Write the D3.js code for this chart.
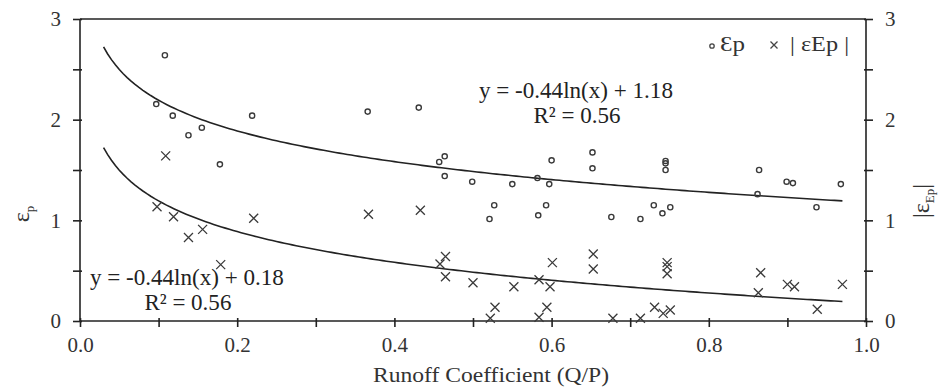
<!DOCTYPE html>
<html>
<head>
<meta charset="utf-8">
<script src="https://cdn.jsdelivr.net/npm/d3@7"></script>
<style>
  html, body { margin: 0; padding: 0; background: #fff; }
  svg { display: block; font-family: "Liberation Serif", "Times New Roman", Times, serif; }
  .axis path, .axis line { stroke: #222; stroke-width: 1.6; }
  .axis text { fill: #333; font-size: 21px; font-family: "Liberation Serif", "Times New Roman", Times, serif; }
</style>
</head>
<body>
<div id="chart"></div>
<script>
// εp observations (circles)
const epRunoff = [0.097, 0.108, 0.118, 0.138, 0.155, 0.178, 0.219, 0.366, 0.431, 0.457,
  0.464, 0.464, 0.499, 0.521, 0.527, 0.550, 0.582, 0.583, 0.593, 0.597,
  0.600, 0.652, 0.652, 0.676, 0.713, 0.730, 0.741, 0.745, 0.745, 0.745,
  0.751, 0.862, 0.864, 0.899, 0.907, 0.937, 0.968];
const epValues = [2.155, 2.64, 2.04, 1.845, 1.92, 1.556, 2.04, 2.08, 2.12, 1.58,
  1.636, 1.44, 1.384, 1.013, 1.15, 1.36, 1.42, 1.05, 1.15, 1.36,
  1.596, 1.675, 1.517, 1.033, 1.013, 1.15, 1.07, 1.59, 1.566, 1.50,
  1.13, 1.26, 1.50, 1.384, 1.37, 1.13, 1.36];

// |εEp| observations (crosses)
const absRunoff = [0.098, 0.109, 0.119, 0.138, 0.156, 0.179, 0.221, 0.367, 0.433, 0.458,
  0.465, 0.465, 0.500, 0.522, 0.528, 0.552, 0.584, 0.584, 0.594, 0.598,
  0.601, 0.653, 0.653, 0.678, 0.713, 0.731, 0.742, 0.747, 0.747, 0.747,
  0.751, 0.863, 0.866, 0.900, 0.909, 0.938, 0.970];
const absValues = [1.135, 1.64, 1.036, 0.83, 0.91, 0.56, 1.02, 1.06, 1.10, 0.566,
  0.64, 0.44, 0.38, 0.027, 0.136, 0.34, 0.41, 0.037, 0.136, 0.34,
  0.58, 0.665, 0.517, 0.027, 0.027, 0.136, 0.076, 0.58, 0.54, 0.47,
  0.11, 0.28, 0.48, 0.364, 0.34, 0.116, 0.364];

// axis ticks
const xTicks = [0, 0.1, 0.2, 0.3, 0.4, 0.5, 0.6, 0.7, 0.8, 0.9, 1.0];
const xTickLabels = ['0.0', '', '0.2', '', '0.4', '', '0.6', '', '0.8', '', '1.0'];
const yTicks = [0, 0.5, 1, 1.5, 2, 2.5, 3];
const yTickLabels = ['0', '', '1', '', '2', '', '3'];

// log trendlines printed on the chart: y = slope*ln(x) + intercept
const trendSlope = -0.44;
const trendIntercepts = [1.18, 0.18];
const trendStart = 0.03;
const trendEnd = 0.97;
const trendLabels = ['y = -0.44ln(x) + 1.18', 'y = -0.44ln(x) + 0.18'];
const r2Label = 'R\u00b2 = 0.56';

const width = 939;
const height = 390;
const margin = { top: 19, right: 73, bottom: 69, left: 80 };

const svg = d3.select('#chart')
  .append('svg')
  .attr('width', width)
  .attr('height', height);

const x = d3.scaleLinear().domain([0, 1]).range([margin.left, width - margin.right]);
const y = d3.scaleLinear().domain([0, 3]).range([height - margin.bottom, margin.top]);

// top border
svg.append('line')
  .attr('x1', x(0)).attr('x2', x(1))
  .attr('y1', y(3)).attr('y2', y(3))
  .attr('stroke', '#222').attr('stroke-width', 1.6);

// bottom axis
const xAxis = svg.append('g')
  .attr('class', 'axis')
  .attr('transform', `translate(0,${y(0)})`)
  .call(d3.axisBottom(x).tickValues(xTicks).tickSize(6).tickPadding(10)
    .tickFormat((d, i) => xTickLabels[i]));
xAxis.selectAll('.tick line').attr('y1', -3);
xAxis.select('.domain').attr('d', `M${x(0)},0H${x(1)}`);

// left axis
const yAxis = svg.append('g')
  .attr('class', 'axis')
  .attr('transform', `translate(${x(0)},0)`)
  .call(d3.axisLeft(y).tickValues(yTicks).tickSize(7).tickPadding(12)
    .tickFormat((d, i) => yTickLabels[i]));
yAxis.selectAll('.tick line').attr('x1', 2);
yAxis.select('.domain').attr('d', `M0,${y(0)}V${y(3)}`);

// right axis
const yAxisRight = svg.append('g')
  .attr('class', 'axis')
  .attr('transform', `translate(${x(1)},0)`)
  .call(d3.axisRight(y).tickValues(yTicks).tickSize(7).tickPadding(12)
    .tickFormat((d, i) => yTickLabels[i]));
yAxisRight.selectAll('.tick line').attr('x1', -2);
yAxisRight.select('.domain').attr('d', `M0,${y(0)}V${y(3)}`);

// trendlines
const line = d3.line().x(d => x(d[0])).y(d => y(d[1]));
trendIntercepts.forEach(b => {
  const pts = d3.range(trendStart, trendEnd + 0.0001, 0.005)
    .map(v => [v, trendSlope * Math.log(v) + b]);
  svg.append('path')
    .datum(pts)
    .attr('d', line)
    .attr('fill', 'none')
    .attr('stroke', '#222')
    .attr('stroke-width', 1.6);
});

// circles
svg.append('g')
  .selectAll('circle')
  .data(epRunoff.map((v, i) => [v, epValues[i]]))
  .join('circle')
  .attr('cx', d => x(d[0]))
  .attr('cy', d => y(d[1]))
  .attr('r', 2.6)
  .attr('fill', 'none')
  .attr('stroke', '#3a3a3a')
  .attr('stroke-width', 1.4);

// crosses
const cross = 4.5;
svg.append('g')
  .selectAll('path')
  .data(absRunoff.map((v, i) => [v, absValues[i]]))
  .join('path')
  .attr('transform', d => `translate(${x(d[0])},${y(d[1])})`)
  .attr('d', `M${-cross},${-cross}L${cross},${cross}M${-cross},${cross}L${cross},${-cross}`)
  .attr('stroke', '#3a3a3a')
  .attr('stroke-width', 1.3);

// equation labels
const eqPos = [[0.631, 98, 123], [0.136, 285, 310]];
trendLabels.forEach((t, i) => {
  svg.append('text')
    .attr('x', x(eqPos[i][0])).attr('y', eqPos[i][1])
    .attr('text-anchor', 'middle')
    .attr('font-size', 23).attr('fill', '#222')
    .attr('textLength', 194).attr('lengthAdjust', 'spacingAndGlyphs')
    .text(t);
  svg.append('text')
    .attr('x', x(eqPos[i][0]) + 1).attr('y', eqPos[i][2])
    .attr('text-anchor', 'middle')
    .attr('font-size', 23).attr('fill', '#222')
    .attr('textLength', 87).attr('lengthAdjust', 'spacingAndGlyphs')
    .text(r2Label);
});

// axis titles
svg.append('text')
  .attr('x', 491).attr('y', 382)
  .attr('text-anchor', 'middle')
  .attr('font-size', 22).attr('fill', '#333')
  .attr('textLength', 236).attr('lengthAdjust', 'spacingAndGlyphs')
  .text('Runoff Coefficient (Q/P)');

const leftTitle = svg.append('text')
  .attr('transform', 'translate(29,214) rotate(-90)')
  .attr('text-anchor', 'middle')
  .attr('font-size', 24).attr('fill', '#333');
leftTitle.append('tspan').text('\u03b5');
leftTitle.append('tspan').attr('font-size', 13).attr('dy', 5).text('p');

const rightTitle = svg.append('text')
  .attr('transform', 'translate(929,201) rotate(-90)')
  .attr('text-anchor', 'middle')
  .attr('font-size', 24).attr('fill', '#333');
rightTitle.append('tspan').text('|\u03b5');
rightTitle.append('tspan').attr('font-size', 13).attr('dy', 5).text('Ep');
rightTitle.append('tspan').attr('dy', -5).text('|');

// legend
const legend = svg.append('g').attr('transform', 'translate(0,51)');
legend.append('circle')
  .attr('cx', 712).attr('cy', -5).attr('r', 2.2)
  .attr('fill', 'none').attr('stroke', '#444').attr('stroke-width', 1.3);
legend.append('text')
  .attr('x', 720).attr('y', 0)
  .attr('font-size', 21).attr('fill', '#333')
  .attr('textLength', 25).attr('lengthAdjust', 'spacingAndGlyphs')
  .text('\u0190p');
legend.append('path')
  .attr('transform', 'translate(774,-6)')
  .attr('d', 'M-3.5,-3.5L3.5,3.5M-3.5,3.5L3.5,-3.5')
  .attr('stroke', '#444').attr('stroke-width', 1.3);
legend.append('text')
  .attr('x', 790).attr('y', 0)
  .attr('font-size', 21).attr('fill', '#333')
  .attr('textLength', 59).attr('lengthAdjust', 'spacingAndGlyphs')
  .text('| \u03b5Ep |');
</script>
</body>
</html>
